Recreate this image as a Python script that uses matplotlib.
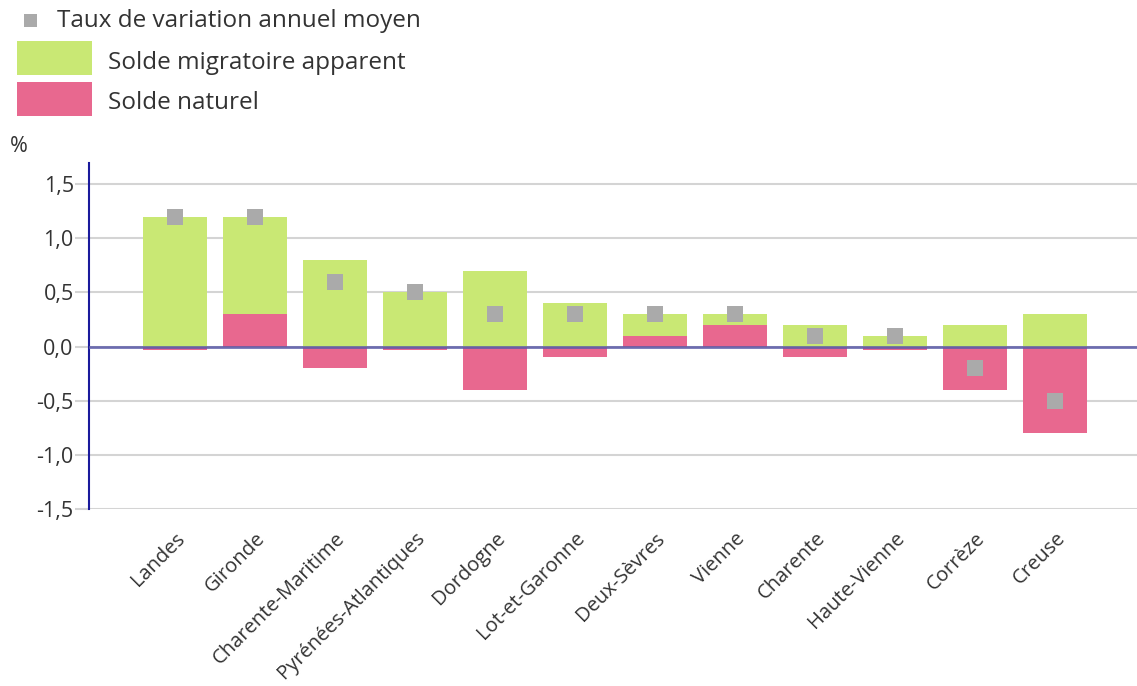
import matplotlib
matplotlib.use("Agg")
import matplotlib.pyplot as plt
from matplotlib.patches import Rectangle
import numpy as np

plt.rcParams['font.family'] = ['Open Sans', 'DejaVu Sans']

departements = ["Landes", "Gironde", "Charente-Maritime", "Pyrénées-Atlantiques",
                "Dordogne", "Lot-et-Garonne", "Deux-Sèvres", "Vienne", "Charente",
                "Haute-Vienne", "Corrèze", "Creuse"]
solde_migratoire = [1.2, 0.9, 0.8, 0.5, 0.7, 0.4, 0.2, 0.1, 0.2, 0.1, 0.2, 0.3]
solde_naturel = [-0.03, 0.3, -0.2, -0.03, -0.4, -0.1, 0.1, 0.2, -0.1, -0.03, -0.4, -0.8]
taux_variation = [1.2, 1.2, 0.6, 0.5, 0.3, 0.3, 0.3, 0.3, 0.1, 0.1, -0.2, -0.5]
yticks = [-1.5, -1.0, -0.5, 0.0, 0.5, 1.0, 1.5]

GREEN = "#c9e874"
PINK = "#e8688f"
GREY = "#aaaaaa"
TXT = "#333333"

W, H = 1137, 686
fig = plt.figure(figsize=(W / 100, H / 100), dpi=100)
ax = fig.add_axes([89 / W, 1 - 509 / H, 1 - 89 / W, (509 - 163) / H])

x = np.arange(len(departements))
mig = np.array(solde_migratoire)
nat = np.array(solde_naturel)
# stacking: positive parts from 0 upward (naturel first), negatives from 0 downward
nat_bottom = np.zeros_like(nat)
mig_bottom = np.where((mig >= 0) & (nat >= 0), nat, 0.0)
ax.bar(x, nat, width=0.8, bottom=nat_bottom, color=PINK, zorder=2, linewidth=0)
ax.bar(x, mig, width=0.8, bottom=mig_bottom, color=GREEN, zorder=2, linewidth=0)
ax.axhline(0, color="#5a5aa8", lw=2, zorder=3, alpha=0.85)
ax.scatter(x, taux_variation, marker="s", s=130, color=GREY, zorder=4, linewidths=0)

ax.set_xlim(-(175 - 89) / 80, (1137 - 175) / 80)
ax.set_ylim(-1.5, 1.695)
ax.set_yticks(yticks)
ax.set_yticklabels([f"{v:.1f}".replace(".", ",") for v in yticks], fontsize=15.5, color=TXT)
ax.yaxis.grid(True, color="#d4d4d4", lw=1.5, zorder=0)
ax.set_axisbelow(True)
ax.tick_params(axis="y", length=10, width=1.5, color="#d4d4d4", pad=1)
ax.set_xticks(x)
ax.set_xticklabels(departements, rotation=45, ha="right", rotation_mode="anchor",
                   fontsize=14.5, color=TXT)
ax.tick_params(axis="x", length=0, pad=14)
for s in ["top", "right", "bottom"]:
    ax.spines[s].set_visible(False)
ax.spines["left"].set_color("#1a1a9c")
ax.spines["left"].set_linewidth(1.5)

fig.text(10 / W, 1 - 147 / H, "%", fontsize=15.5, color=TXT, va="center")

# legend
def fy(py):
    return 1 - py / H

fig.patches.append(Rectangle((24 / W, fy(27)), 13 / W, 13 / H, transform=fig.transFigure,
                             color=GREY, lw=0))
fig.text(57 / W, fy(21), "Taux de variation annuel moyen", fontsize=17.5, color=TXT, va="center")
fig.patches.append(Rectangle((17 / W, fy(75)), 75 / W, 34 / H, transform=fig.transFigure,
                             color=GREEN, lw=0))
fig.text(108 / W, fy(63), "Solde migratoire apparent", fontsize=17.5, color=TXT, va="center")
fig.patches.append(Rectangle((17 / W, fy(116)), 75 / W, 34 / H, transform=fig.transFigure,
                             color=PINK, lw=0))
fig.text(108 / W, fy(103), "Solde naturel", fontsize=17.5, color=TXT, va="center")

fig.savefig("out.png", dpi=100)
